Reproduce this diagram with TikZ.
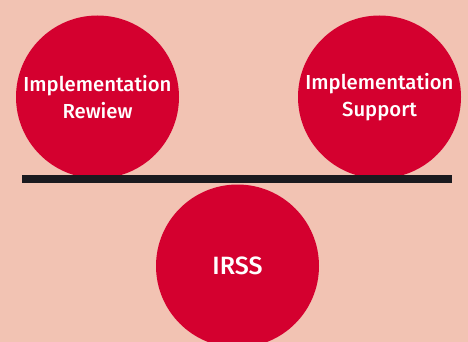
\documentclass[tikz,border=0pt]{standalone}
\usepackage{fontspec}
\setmainfont{Fira Sans}[BoldFont={Fira Sans Medium}]
\definecolor{bg}{HTML}{F2C3B3}
\definecolor{redc}{HTML}{D4002F}
\definecolor{barc}{HTML}{1B1A1F}
\begin{document}
\begin{tikzpicture}[x=1pt,y=-1pt,
  disc/.style={circle,fill=redc,minimum size=163pt,inner sep=0pt,text=white,align=center,font=\fontsize{20.3}{27}\selectfont\bfseries},
  bar/.style={fill=barc,draw=none}]
\path[use as bounding box,fill=bg] (0,0) rectangle (468,342);
\begin{scope}
\clip (0,0) rectangle (468,342);
\node[disc] (rev) at (97.5,97) {Implementation\\Rewiew};
\node[disc] (sup) at (379.5,97) {Implementation\\Support};
\node[disc,font=\fontsize{25}{27}\selectfont\bfseries] (irss) at (237.5,266) {IRSS};
\fill[barc] (22,175) rectangle (452,183);
\end{scope}
\end{tikzpicture}
\end{document}
